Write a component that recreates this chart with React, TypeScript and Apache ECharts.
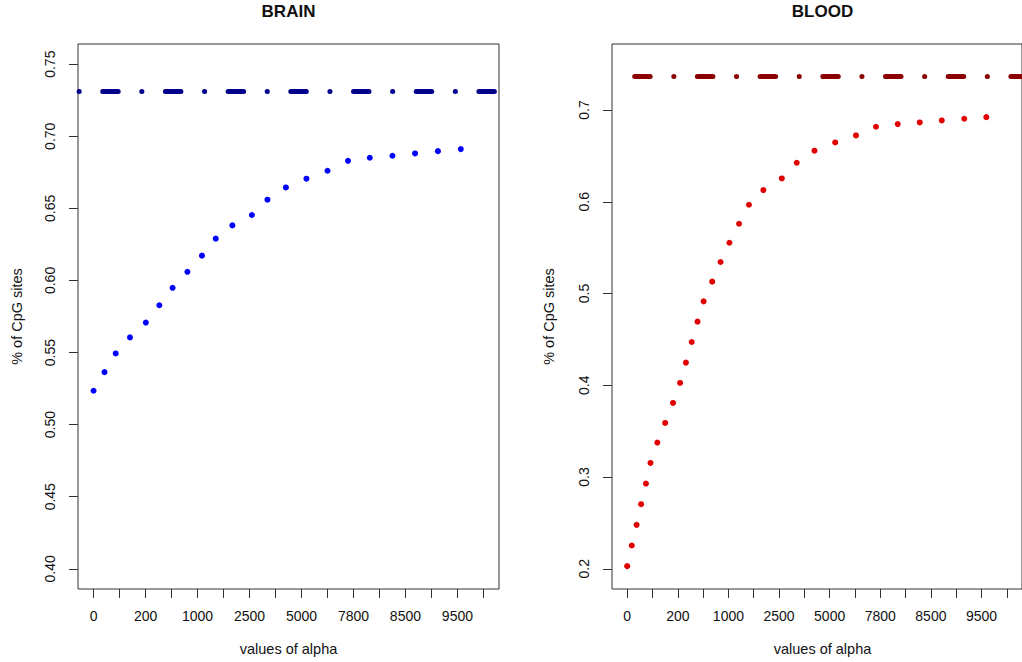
import React, { useEffect, useRef } from "react";
import * as echarts from "echarts";

// Tick positions along the x axis (index units) and their labels
const xTickPositions = [0, 1, 2, 3, 4, 5, 6, 7, 8, 9, 10, 11, 12, 13, 14, 15];
const xLabelPositions = [0, 2, 4, 6, 8, 10, 12, 14];
const xLabels = ["0", "200", "1000", "2500", "5000", "7800", "8500", "9500"];

// BRAIN panel
const brainTicks = [0.4, 0.45, 0.5, 0.55, 0.6, 0.65, 0.7, 0.75];
const brainX = [0, 0.42, 0.85, 1.4, 2.01, 2.53, 3.04, 3.61, 4.17, 4.7, 5.34, 6.09, 6.69, 7.4, 8.19, 9.0, 9.79, 10.63, 11.5, 12.37, 13.25, 14.13];
const brainY = [0.5235, 0.5364, 0.5494, 0.5605, 0.5708, 0.5828, 0.5949, 0.606, 0.6172, 0.629, 0.6382, 0.6454, 0.656, 0.6645, 0.6706, 0.6761, 0.683, 0.6851, 0.6865, 0.6881, 0.6897, 0.6911];
const brainRef = 0.731;

// BLOOD panel
const bloodTicks = [0.2, 0.3, 0.4, 0.5, 0.6, 0.7];
const bloodX = [0, 0.18, 0.37, 0.55, 0.74, 0.92, 1.19, 1.5, 1.81, 2.09, 2.32, 2.55, 2.78, 3.02, 3.36, 3.69, 4.04, 4.42, 4.81, 5.38, 6.11, 6.7, 7.4, 8.22, 9.04, 9.83, 10.69, 11.56, 12.43, 13.32, 14.19];
const bloodY = [0.2029, 0.2254, 0.2479, 0.2704, 0.2929, 0.3154, 0.3376, 0.359, 0.3808, 0.4026, 0.4247, 0.4472, 0.4694, 0.4915, 0.513, 0.5344, 0.5554, 0.5761, 0.5968, 0.6128, 0.6255, 0.6426, 0.6557, 0.6647, 0.6724, 0.6818, 0.6847, 0.6865, 0.6887, 0.6905, 0.6923];
const bloodRef = 0.7366;

const X_MIN = -0.6;
const X_MAX = 15.6;

export default function App() {
  const ref = useRef<HTMLDivElement>(null);

  useEffect(() => {
    document.body.style.margin = "0";
    if (!ref.current) return;
    const chart = echarts.init(ref.current, undefined, { renderer: "svg" });
    const font = "'Liberation Sans', Arial, Helvetica, sans-serif";
    const textColor = "#111";
    const boxColor = "#333";

    const makeX = (gridIndex: number) => ({
      type: "value",
      gridIndex,
      min: X_MIN,
      max: X_MAX,
      splitLine: { show: false },
      axisLine: { show: false, onZero: false },
      axisTick: {
        show: true,
        length: 9,
        customValues: xTickPositions,
        lineStyle: { color: boxColor, width: 1 },
      },
      axisLabel: {
        customValues: xLabelPositions,
        margin: 20,
        color: textColor,
        fontFamily: font,
        fontSize: 14,
        formatter: (v: number) => {
          const i = xLabelPositions.indexOf(Math.round(v));
          return i >= 0 ? xLabels[i] : "";
        },
      },
    });

    const makeY = (gridIndex: number, ticks: number[], min: number, max: number, digits: number) => ({
      type: "value",
      gridIndex,
      min,
      max,
      splitLine: { show: false },
      axisLine: { show: false, onZero: false },
      axisTick: {
        show: true,
        length: 9,
        customValues: ticks,
        lineStyle: { color: boxColor, width: 1 },
      },
      axisLabel: {
        customValues: ticks,
        rotate: 90,
        margin: 21,
        color: textColor,
        fontFamily: font,
        fontSize: 14,
        formatter: (v: number) => v.toFixed(digits),
      },
    });

    const dashLine = (idx: number, y: number, color: string, offset: number) => ({
      type: "line",
      xAxisIndex: idx,
      yAxisIndex: idx,
      data: [
        [X_MIN, y],
        [X_MAX, y],
      ],
      showSymbol: false,
      symbol: "none",
      clip: true,
      silent: true,
      lineStyle: {
        color,
        width: 5,
        type: [15.5, 23.6, 0.1, 23.5],
        dashOffset: offset,
        cap: "round",
      },
      z: 2,
    });

    const scatter = (idx: number, xs: number[], ys: number[], color: string) => ({
      type: "scatter",
      xAxisIndex: idx,
      yAxisIndex: idx,
      data: xs.map((x, i) => [x, ys[i]]),
      symbol: "circle",
      symbolSize: 6,
      itemStyle: { color, opacity: 1 },
      z: 3,
    });

    const text = (t: string, x: number, y: number, opts: any = {}) => ({
      type: "text",
      x,
      y,
      rotation: opts.rotation || 0,
      style: {
        text: t,
        fill: textColor,
        font: `${opts.bold ? "bold " : ""}${opts.size || 14.5}px ${font}`,
        textAlign: "center",
        textVerticalAlign: "middle",
      },
    });

    chart.setOption({
      animation: false,
      backgroundColor: "#ffffff",
      grid: [
        { left: 78, top: 44, width: 421, height: 545, show: true, borderColor: boxColor, borderWidth: 1, backgroundColor: "transparent" },
        { left: 612, top: 44, width: 421, height: 545, show: true, borderColor: boxColor, borderWidth: 1, backgroundColor: "transparent" },
      ],
      xAxis: [makeX(0), makeX(1)],
      yAxis: [
        makeY(0, brainTicks, 0.386, 0.764, 2),
        makeY(1, bloodTicks, 0.178, 0.772, 1),
      ],
      series: [
        dashLine(0, brainRef, "#00008B", 37.95),
        scatter(0, brainX, brainY, "#0000FF"),
        dashLine(1, bloodRef, "#8B0000", 39.55),
        scatter(1, bloodX, bloodY, "#E00000"),
      ],
      graphic: [
        text("BRAIN", 288.5, 11, { bold: true, size: 17 }),
        text("BLOOD", 822.5, 11, { bold: true, size: 17 }),
        text("values of alpha", 288.5, 649),
        text("values of alpha", 822.5, 649),
        text("% of CpG sites", 17, 316.5, { rotation: Math.PI / 2 }),
        text("% of CpG sites", 549, 316.5, { rotation: Math.PI / 2 }),
      ],
    });

    return () => chart.dispose();
  }, []);

  return (
    <div
      ref={ref}
      style={{ position: "absolute", left: 0, top: 0, width: 1022, height: 662 }}
    />
  );
}
